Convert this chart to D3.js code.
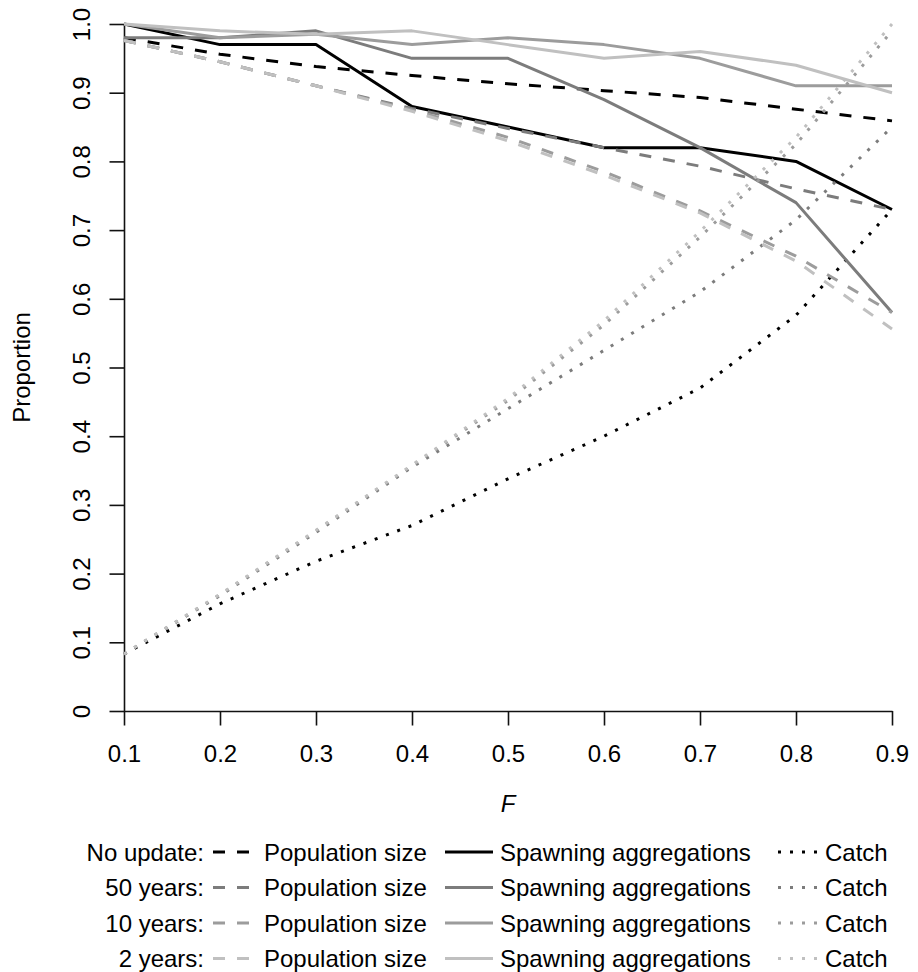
<!DOCTYPE html>
<html>
<head>
<meta charset="utf-8">
<script src="https://cdn.jsdelivr.net/npm/d3@7"></script>
<style>
  body { margin: 0; background: #fff; }
  svg { display: block; }
  text { font-family: "Liberation Sans", Arial, Helvetica, sans-serif; fill: #000; }
</style>
</head>
<body>
<div id="chart"></div>
<script>
// ---------------- data ----------------
const F = [0.1, 0.2, 0.3, 0.4, 0.5, 0.6, 0.7, 0.8, 0.9];
const xTickValues = [0.1, 0.2, 0.3, 0.4, 0.5, 0.6, 0.7, 0.8, 0.9];
const xTickLabels = ["0.1", "0.2", "0.3", "0.4", "0.5", "0.6", "0.7", "0.8", "0.9"];
const yTickValues = [0, 0.1, 0.2, 0.3, 0.4, 0.5, 0.6, 0.7, 0.8, 0.9, 1.0];
const yTickLabels = ["0", "0.1", "0.2", "0.3", "0.4", "0.5", "0.6", "0.7", "0.8", "0.9", "1.0"];
const scenarios = ["No update:", "50 years:", "10 years:", "2 years:"];
const measures = ["Population size", "Spawning aggregations", "Catch"];

// Population size (dashed)
const popNoUpdate = [0.980, 0.956, 0.938, 0.925, 0.913, 0.903, 0.893, 0.876, 0.859];
const pop50 = [0.976, 0.945, 0.910, 0.877, 0.848, 0.820, 0.793, 0.760, 0.730];
const pop10 = [0.976, 0.945, 0.910, 0.875, 0.835, 0.785, 0.728, 0.662, 0.580];
const pop2 = [0.976, 0.945, 0.910, 0.873, 0.830, 0.780, 0.725, 0.655, 0.556];

// Spawning aggregations (solid)
const spawnNoUpdate = [1.00, 0.97, 0.97, 0.88, 0.85, 0.82, 0.82, 0.80, 0.73];
const spawn50 = [0.98, 0.98, 0.99, 0.95, 0.95, 0.89, 0.82, 0.74, 0.58];
const spawn10 = [1.00, 0.98, 0.985, 0.97, 0.98, 0.97, 0.95, 0.91, 0.91];
const spawn2 = [1.00, 0.99, 0.985, 0.99, 0.97, 0.95, 0.96, 0.94, 0.90];

// Catch (dotted)
const catchNoUpdate = [0.083, 0.156, 0.218, 0.270, 0.338, 0.400, 0.470, 0.576, 0.730];
const catch50 = [0.083, 0.168, 0.260, 0.355, 0.440, 0.525, 0.610, 0.715, 0.850];
const catch10 = [0.083, 0.169, 0.262, 0.357, 0.452, 0.562, 0.690, 0.825, 0.990];
const catch2 = [0.083, 0.170, 0.263, 0.358, 0.455, 0.568, 0.698, 0.835, 1.000];

const popSeries = [popNoUpdate, pop50, pop10, pop2];
const spawnSeries = [spawnNoUpdate, spawn50, spawn10, spawn2];
const catchSeries = [catchNoUpdate, catch50, catch10, catch2];

// ---------------- style ----------------
const colors = ["#000000", "#7c7c7c", "#9c9c9c", "#c0c0c0"];
const dashStyles = ["12,12", null, "3,9"]; // population, spawning, catch
const W = 918, H = 972;
const fs = 24;

const svg = d3.select("#chart").append("svg")
  .attr("width", W).attr("height", H);

const x = d3.scaleLinear().domain([0.1, 0.9]).range([124, 892]);
const y = d3.scaleLinear().domain([0, 1]).range([711, 24]);

// ---------------- axes ----------------
const xAxis = svg.append("g")
  .attr("transform", `translate(0,${y(0)})`)
  .call(d3.axisBottom(x).tickValues(xTickValues).tickSize(14.5).tickSizeOuter(0)
    .tickFormat((d, i) => xTickLabels[i]));
xAxis.selectAll("path, line").attr("stroke", "#111").attr("stroke-width", 1.6);
xAxis.selectAll("text")
  .attr("y", 50.5).attr("dy", null)
  .style("font-size", fs + "px")
  .attr("fill", "#000");

const yAxis = svg.append("g")
  .attr("transform", `translate(${x(0.1)},0)`)
  .call(d3.axisLeft(y).tickValues(yTickValues).tickSize(14.5).tickSizeOuter(0)
    .tickFormat((d, i) => yTickLabels[i]));
yAxis.selectAll("path, line").attr("stroke", "#111").attr("stroke-width", 1.6);
yAxis.selectAll("text")
  .attr("x", null).attr("dy", null)
  .attr("text-anchor", "middle")
  .attr("transform", "translate(-34.5,0) rotate(-90)")
  .style("font-size", fs + "px")
  .attr("fill", "#000");
yAxis.attr("font-family", null).attr("font-size", null);
xAxis.attr("font-family", null).attr("font-size", null);

// axis titles
svg.append("text")
  .attr("transform", `translate(30,${(y(0) + y(1)) / 2}) rotate(-90)`)
  .attr("text-anchor", "middle")
  .style("font-size", fs + "px")
  .text("Proportion");

svg.append("text")
  .attr("x", x(0.5)).attr("y", 812)
  .attr("text-anchor", "middle")
  .style("font-size", fs + "px")
  .style("font-style", "italic")
  .text("F");

// ---------------- lines ----------------
const line = d3.line()
  .x((d, i) => x(F[i]))
  .y(d => y(d));

const plotG = svg.append("g");
scenarios.forEach((s, k) => {
  [popSeries[k], spawnSeries[k], catchSeries[k]].forEach((series, m) => {
    plotG.append("path")
      .datum(series)
      .attr("d", line)
      .attr("fill", "none")
      .attr("stroke", colors[k])
      .attr("stroke-width", 3)
      .attr("stroke-linejoin", "round")
      .attr("stroke-dasharray", dashStyles[m]);
  });
});

// ---------------- legend ----------------
const legend = svg.append("g");
const rowY0 = 852, rowStep = 35.5;
const sampleX = [[213, 249], [445, 493], [778, 818]];
const textX = [264, 500, 825];
scenarios.forEach((s, k) => {
  const cy = rowY0 + k * rowStep;
  legend.append("text")
    .attr("x", 204).attr("y", cy + 8.6)
    .attr("text-anchor", "end")
    .style("font-size", fs + "px")
    .text(s);
  measures.forEach((m, j) => {
    legend.append("line")
      .attr("x1", sampleX[j][0]).attr("x2", sampleX[j][1])
      .attr("y1", cy).attr("y2", cy)
      .attr("stroke", colors[k])
      .attr("stroke-width", 3)
      .attr("stroke-dasharray", dashStyles[j]);
    legend.append("text")
      .attr("x", textX[j]).attr("y", cy + 8.6)
      .style("font-size", fs + "px")
      .text(m);
  });
});
</script>
</body>
</html>
